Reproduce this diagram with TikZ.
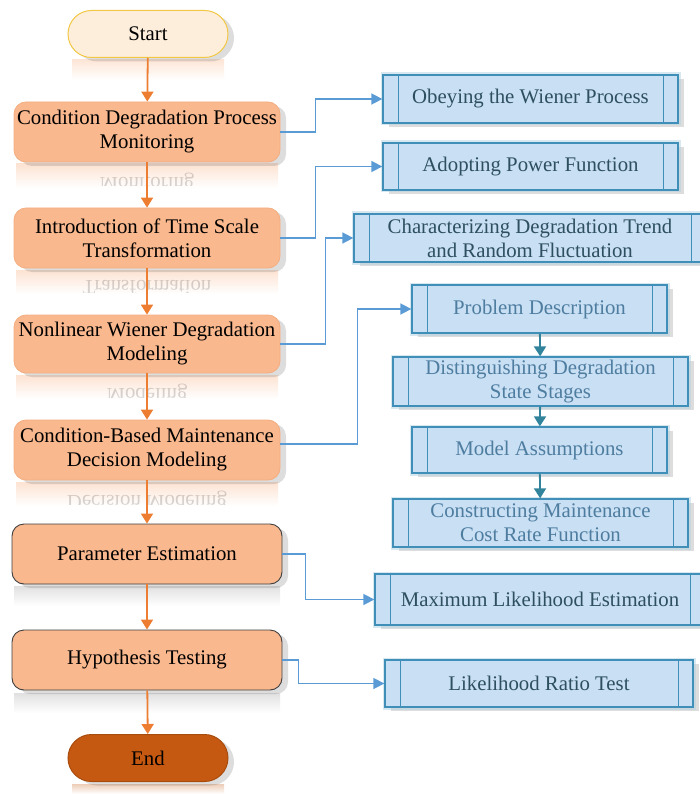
\documentclass[tikz,border=0pt]{standalone}
\usepackage{fontspec}
\setmainfont{Liberation Serif}
\usetikzlibrary{arrows.meta,shadows}
\definecolor{orfill}{HTML}{F9B88E}
\definecolor{orline}{HTML}{F4AD80}
\definecolor{startfill}{HTML}{FDEEDC}
\definecolor{startline}{HTML}{F2C744}
\definecolor{endfill}{HTML}{C65911}
\definecolor{bfill}{HTML}{C8DFF4}
\definecolor{bline}{HTML}{3F8FB8}
\definecolor{conn}{HTML}{5B9BD5}
\definecolor{orarrow}{HTML}{ED7D31}
\definecolor{tealarrow}{HTML}{31849B}
\definecolor{txtdark}{HTML}{2D4F5E}
\definecolor{txtlight}{HTML}{4E7DA0}
\newcommand\fsz{\fontsize{20.8}{24}\selectfont}
\begin{document}
\begin{tikzpicture}[x=1pt,y=-1pt,
  shad/.style={drop shadow={shadow xshift=6pt,shadow yshift=-4pt,opacity=0.22,fill=black!60}},
  lbox/.style={shad,rounded corners=12pt,fill=orfill,draw=orline,line width=0.8pt,
    minimum width=266pt,minimum height=60pt,align=center,font=\fsz,text=black,inner sep=2pt},
  dbox/.style={lbox,draw=black!75,line width=0.9pt,minimum width=270pt},
  pill/.style={shad,rounded corners=23.5pt,minimum width=160pt,minimum height=47pt,font=\fsz,line width=1pt},
  procbox/.style={shad,draw=bline,line width=1.3pt,fill=bfill,minimum height=48pt,align=center,
    font=\fsz,text=txtdark,inner sep=2pt,
    preaction={draw=bline!40,line width=5pt,opacity=0.5},
    path picture={\draw[bline,line width=1pt]
      ([xshift=15pt]path picture bounding box.north west) -- ([xshift=15pt]path picture bounding box.south west)
      ([xshift=-15pt]path picture bounding box.north east) -- ([xshift=-15pt]path picture bounding box.south east);}},
  oarr/.style={draw=orarrow,line width=1.8pt,-{Triangle[width=12pt,length=10pt]}},
  tarr/.style={draw=tealarrow,line width=1.8pt,-{Triangle[width=12pt,length=10pt]}},
  carr/.style={draw=conn,line width=1.6pt,-{Triangle[width=11pt,length=11pt]}},
  refl/.style={top color=#1,bottom color=white,draw=none},
  ghost/.style={font=\fsz,text=black,opacity=0.16}
]
\useasboundingbox (0,0) rectangle (699,794);

% reflections
\foreach \yy in {164,270,375,482}{
  \shade[refl=orfill!40] (16,\yy) rectangle (278,\yy+24);
}
\shade[refl=black!12] (14,586) rectangle (280,606);
\shade[refl=black!12] (14,693) rectangle (280,713);
\shade[refl=orfill!35] (72,60) rectangle (224,80);
\shade[refl=endfill!30] (72,784) rectangle (224,794);
\begin{scope}
  \clip (16,171) rectangle (278,186);
  \begin{scope}[shift={(147,182)},yscale=-1]
    \node[ghost,transform shape] (g1) at (0,0) {Monitoring};
  \end{scope}
\end{scope}
\begin{scope}
  \clip (16,277) rectangle (278,292);
  \begin{scope}[shift={(147,288)},yscale=-1]
    \node[ghost,transform shape] (g2) at (0,0) {Transformation};
  \end{scope}
\end{scope}
\begin{scope}
  \clip (16,382) rectangle (278,397);
  \begin{scope}[shift={(147,393)},yscale=-1]
    \node[ghost,transform shape] (g3) at (0,0) {Modeling};
  \end{scope}
\end{scope}
\begin{scope}
  \clip (16,489) rectangle (278,504);
  \begin{scope}[shift={(147,500)},yscale=-1]
    \node[ghost,transform shape] (g4) at (0,0) {Decision Modeling};
  \end{scope}
\end{scope}

% left column
\node[pill,fill=startfill,draw=startline] (start) at (148,34) {Start};
\node[lbox] (b1) at (147,132) {Condition Degradation Process\\Monitoring};
\node[lbox] (b2) at (147,238) {Introduction of Time Scale\\Transformation};
\node[lbox,minimum height=58pt] (b3) at (147,344) {Nonlinear Wiener Degradation\\Modeling};
\node[lbox] (b4) at (147,450) {Condition-Based Maintenance\\Decision Modeling};
\node[dbox] (b5) at (147,554) {Parameter Estimation};
\node[dbox] (b6) at (147,660) {Hypothesis Testing};
\node[pill,fill=endfill,draw=endfill!85!black] (end) at (148,758) {End};

% right column
\node[procbox,minimum width=295pt] (r1) at (530.5,99) {Obeying the Wiener Process};
\node[procbox,minimum width=295pt,minimum height=47pt] (r2) at (530.5,166.5) {Adopting Power Function};
\node[procbox,minimum width=352pt] (r3) at (530,238) {Characterizing Degradation Trend\\and Random Fluctuation};
\node[procbox,minimum width=255pt,text=txtlight] (r4) at (539.5,309) {Problem Description};
\node[procbox,minimum width=295pt,minimum height=49pt,text=txtlight] (r5) at (540.5,381.5) {Distinguishing Degradation\\State Stages};
\node[procbox,minimum width=255pt,minimum height=46pt,text=txtlight] (r6) at (539.5,450) {Model Assumptions};
\node[procbox,minimum width=295pt,text=txtlight] (r7) at (540.5,523) {Constructing Maintenance\\Cost Rate Function};
\node[procbox,minimum width=330pt,minimum height=51pt] (r8) at (540,599.5) {Maximum Likelihood Estimation};
\node[procbox,minimum width=308pt,minimum height=47pt] (r9) at (539,683.5) {Likelihood Ratio Test};

% orange flow arrows
\draw[oarr] (start) -- (b1);
\draw[oarr] (b1) -- (b2);
\draw[oarr] (b2) -- (b3);
\draw[oarr] (b3) -- (b4);
\draw[oarr] (b4) -- (b5);
\draw[oarr] (b5) -- (b6);
\draw[oarr] (b6) -- (end);

% teal arrows
\draw[tarr] (r4) -- (r5);
\draw[tarr] (r5) -- (r6);
\draw[tarr] (r6) -- (r7);

% blue connectors
\draw[carr] (b1.east) -- ++(35,0) |- (r1.west);
\draw[carr] (b2.east) -- ++(35,0) |- (r2.west);
\draw[carr] (b3.east) -- ++(45,0) |- (r3.west);
\draw[carr] ([yshift=6pt]b4.east) -- ++(77,0) |- (r4.west);
\draw[carr] (b5.east) -- ++(23,0) |- (r8.west);
\draw[carr] (b6.east) -- ++(16,0) |- (r9.west);
\end{tikzpicture}
\end{document}
